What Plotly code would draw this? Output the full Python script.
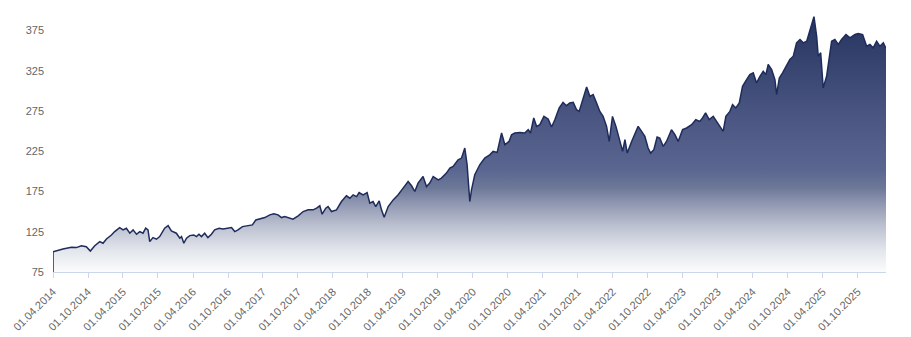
import plotly.graph_objects as go

dates = [
    "2014-04-01", "2014-04-01", "2014-05-23", "2014-07-06", "2014-08-01", "2014-08-27", "2014-09-22",
    "2014-10-13", "2014-11-05", "2014-12-01", "2014-12-18", "2015-01-05", "2015-01-31",
    "2015-02-17", "2015-03-15", "2015-04-02", "2015-04-19", "2015-05-07", "2015-05-24",
    "2015-06-11", "2015-06-28", "2015-07-15", "2015-07-29", "2015-08-10", "2015-08-19",
    "2015-09-05", "2015-09-23", "2015-10-10", "2015-11-05", "2015-11-23", "2015-12-10",
    "2015-12-19", "2016-01-05", "2016-01-23", "2016-02-01", "2016-02-13", "2016-02-27",
    "2016-03-15", "2016-04-05", "2016-04-19", "2016-05-02", "2016-05-15", "2016-06-01",
    "2016-06-18", "2016-07-06", "2016-07-23", "2016-08-15", "2016-09-05", "2016-09-26",
    "2016-10-19", "2016-11-05", "2016-11-22", "2016-12-15", "2017-01-13", "2017-02-05",
    "2017-02-23", "2017-03-15", "2017-04-11", "2017-05-07", "2017-05-28", "2017-06-19",
    "2017-07-07", "2017-07-24", "2017-08-16", "2017-09-05", "2017-10-02", "2017-10-28",
    "2017-11-23", "2017-12-19", "2018-01-06", "2018-01-23", "2018-02-04", "2018-02-23",
    "2018-03-07", "2018-03-25", "2018-04-20", "2018-05-16", "2018-06-11", "2018-06-29",
    "2018-07-16", "2018-08-03", "2018-08-16", "2018-09-06", "2018-09-27", "2018-10-11",
    "2018-10-28", "2018-11-11", "2018-11-29", "2018-12-11", "2018-12-25", "2019-01-15",
    "2019-02-10", "2019-03-08", "2019-04-03", "2019-04-29", "2019-05-17", "2019-06-03",
    "2019-06-20", "2019-07-16", "2019-08-03", "2019-08-20", "2019-09-07", "2019-10-03",
    "2019-10-20", "2019-11-15", "2019-12-03", "2019-12-20", "2020-01-15", "2020-02-02",
    "2020-02-19", "2020-03-02", "2020-03-16", "2020-03-25", "2020-04-11", "2020-05-07",
    "2020-06-02", "2020-06-28", "2020-07-16", "2020-08-06", "2020-08-29", "2020-09-15",
    "2020-10-07", "2020-10-20", "2020-11-06", "2020-12-02", "2020-12-28", "2021-01-15",
    "2021-01-27", "2021-02-13", "2021-02-28", "2021-03-17", "2021-04-07", "2021-04-29",
    "2021-05-17", "2021-06-03", "2021-06-26", "2021-07-16", "2021-08-03", "2021-08-20",
    "2021-09-07", "2021-09-24", "2021-10-08", "2021-10-26", "2021-11-16", "2021-12-03",
    "2021-12-20", "2022-01-07", "2022-01-24", "2022-02-10", "2022-02-28", "2022-03-14",
    "2022-03-31", "2022-04-18", "2022-05-05", "2022-05-23", "2022-06-04", "2022-06-16",
    "2022-07-09", "2022-07-26", "2022-08-12", "2022-08-30", "2022-09-16", "2022-10-03",
    "2022-10-16", "2022-11-02", "2022-11-19", "2022-12-03", "2022-12-21", "2023-01-07",
    "2023-02-02", "2023-02-20", "2023-03-09", "2023-04-01", "2023-04-22", "2023-05-18",
    "2023-06-09", "2023-06-30", "2023-07-14", "2023-07-30", "2023-08-18", "2023-09-08",
    "2023-09-26", "2023-10-13", "2023-10-30", "2023-11-13", "2023-12-04", "2023-12-18",
    "2024-01-04", "2024-01-22", "2024-02-08", "2024-02-29", "2024-03-17", "2024-04-04",
    "2024-04-21", "2024-05-09", "2024-05-26", "2024-06-09", "2024-06-21", "2024-07-09",
    "2024-07-26", "2024-08-04", "2024-08-18", "2024-09-04", "2024-09-22", "2024-10-12",
    "2024-10-30", "2024-11-16", "2024-12-04", "2024-12-21", "2025-01-08", "2025-01-21",
    "2025-02-03", "2025-02-15", "2025-03-01", "2025-03-09", "2025-03-22", "2025-04-04",
    "2025-04-22", "2025-05-09", "2025-05-18", "2025-06-04", "2025-06-22", "2025-07-09",
    "2025-08-01", "2025-08-22", "2025-09-17", "2025-10-04", "2025-10-27", "2025-11-17",
    "2025-12-04", "2025-12-21", "2026-01-08", "2026-01-25", "2026-02-12", "2026-02-26",
]

values = [
    75.0, 100.0, 103.6, 105.7, 105.3, 107.7, 106.5,
    101.1, 107.7, 112.7, 110.7, 116.0, 121.0,
    125.2, 130.2, 127.3, 129.4, 123.2, 127.3,
    121.9, 125.2, 123.2, 129.4, 127.3, 112.7,
    117.7, 115.7, 119.0, 129.4, 132.6, 126.0,
    125.2, 123.2, 117.0, 119.0, 110.7, 117.0,
    120.2, 121.0, 119.0, 121.9, 119.0, 123.2,
    117.7, 121.9, 127.3, 129.4, 128.5, 129.4,
    130.2, 125.2, 127.3, 131.4, 132.6, 133.5,
    139.7, 140.6, 142.6, 146.0, 147.2, 146.0,
    142.6, 143.8, 141.8, 140.6, 144.7, 150.1,
    152.2, 152.2, 154.3, 157.2, 146.8, 154.3,
    156.3, 150.1, 152.2, 162.5, 169.6, 166.7,
    170.9, 168.7, 173.7, 170.9, 173.7, 160.5,
    162.5, 156.3, 163.4, 152.2, 143.1, 156.3,
    164.6, 170.9, 179.2, 187.4, 182.1, 175.0,
    185.4, 193.6, 181.2, 185.4, 193.6, 189.5,
    191.6, 197.9, 204.1, 206.1, 214.4, 216.5,
    229.0, 208.2, 162.5, 177.1, 195.8, 208.2,
    216.5, 220.6, 224.8, 223.5, 247.7, 233.1,
    237.2, 245.5, 247.7, 248.4, 247.7, 251.8,
    247.7, 266.3, 255.9, 258.0, 268.3, 265.1,
    255.1, 264.2, 278.8, 285.8, 281.6, 285.0,
    285.8, 276.7, 274.5, 289.1, 304.9, 293.2,
    295.3, 285.0, 274.5, 268.3, 255.9, 237.2,
    268.3, 255.9, 239.3, 224.8, 239.3, 222.7,
    237.2, 247.7, 255.9, 249.6, 243.4, 229.0,
    222.7, 226.9, 242.7, 241.4, 231.0, 237.2,
    251.8, 245.5, 237.2, 251.8, 253.9, 258.0,
    264.2, 262.1, 266.3, 272.6, 264.2, 268.3,
    262.1, 255.9, 249.6, 268.3, 274.5, 282.9,
    278.8, 285.0, 305.7, 314.0, 320.2, 322.4,
    309.9, 318.1, 324.4, 320.2, 332.7, 326.5,
    314.0, 295.3, 316.1, 322.4, 330.6, 339.0,
    343.1, 359.7, 363.8, 359.7, 361.7, 372.1,
    382.5, 392.1, 367.9, 343.1, 347.3, 303.7,
    318.1, 351.4, 361.7, 363.8, 357.6, 363.8,
    370.0, 365.9, 370.0, 371.3, 370.0, 355.5,
    357.6, 353.4, 361.7, 355.5, 359.7, 352.6,
]

y_ticks = [75, 125, 175, 225, 275, 325, 375]

navy = "#1f2c5b"

fig = go.Figure()
fig.add_trace(go.Scatter(
    x=dates,
    y=values,
    mode="lines",
    line=dict(color=navy, width=1.5),
    fill="tozeroy",
    fillgradient=dict(
        type="vertical",
        start=75,
        stop=393,
        colorscale=[
            [0.0, "#fcfcfd"],
            [0.08, "#e4e7ed"],
            [0.18, "#bcc1d0"],
            [0.27, "#8e96b0"],
            [0.33, "#6c7798"],
            [0.40, "#5a6690"],
            [0.6, "#4b5782"],
            [1.0, "#25335f"],
        ],
    ),
    hoverinfo="x+y",
    showlegend=False,
))

fig.update_layout(
    width=911,
    height=337,
    margin=dict(l=53, r=25, t=16, b=65),
    paper_bgcolor="white",
    plot_bgcolor="white",
    font=dict(family="Liberation Sans, Arial, sans-serif", size=11, color="#666666"),
    xaxis=dict(
        type="date",
        automargin=False,
        range=["2014-04-01", "2026-02-26"],
        tick0="2014-04-01",
        dtick="M6",
        tickformat="%d.%m.%Y",
        tickangle=-45,
        ticks="outside",
        ticklen=5,
        tickcolor="#ccd6eb",
        ticklabelstandoff=3,
        showline=True,
        linecolor="#ccd6eb",
        linewidth=1,
        showgrid=False,
        zeroline=False,
        tickfont=dict(family="Liberation Sans, Arial, sans-serif", size=11, color="#666666"),
    ),
    yaxis=dict(
        automargin=False,
        range=[75, 393],
        tickvals=y_ticks,
        ticktext=[str(v) for v in y_ticks],
        showgrid=False,
        zeroline=False,
        showline=False,
        ticks="",
        ticklabelstandoff=8,
        tickfont=dict(family="Liberation Sans, Arial, sans-serif", size=11, color="#666666"),
    ),
)

fig.write_html("out.html")
